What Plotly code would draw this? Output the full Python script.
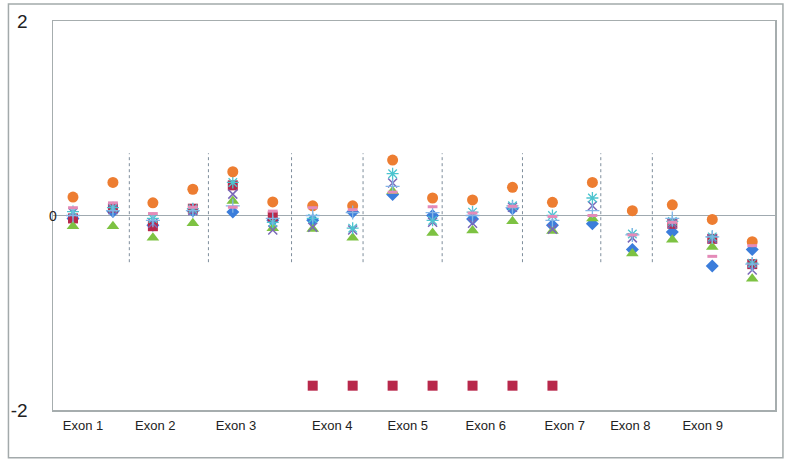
import plotly.graph_objects as go

positions = list(range(18))

blue_diamond = [-0.03, 0.04, -0.10, 0.05, 0.035, -0.05, -0.05, 0.035, 0.215, 0.0, -0.035, 0.07, -0.10, -0.085, -0.35, -0.17, -0.52, -0.35]
red_square = [-0.03, 0.08, -0.11, 0.07, 0.31, -0.01, -1.75, -1.75, -1.75, -1.75, -1.75, -1.75, -1.75, None, None, -0.085, -0.24, -0.50]
green_triangle = [-0.11, -0.11, -0.23, -0.08, 0.15, -0.13, -0.14, -0.23, 0.25, -0.18, -0.155, -0.06, -0.16, -0.03, -0.39, -0.25, -0.325, -0.65]
purple_x = [0.03, 0.06, -0.08, 0.05, 0.22, -0.15, -0.12, -0.15, 0.335, -0.07, -0.08, 0.085, -0.14, 0.10, -0.23, -0.085, -0.24, -0.56]
cyan_star = [0.04, 0.08, -0.03, 0.07, 0.34, -0.07, -0.03, -0.13, 0.43, -0.05, 0.035, 0.10, 0.0, 0.18, -0.19, -0.06, -0.22, -0.49]
orange_circle = [0.19, 0.34, 0.13, 0.27, 0.45, 0.14, 0.10, 0.10, 0.57, 0.18, 0.16, 0.29, 0.135, 0.34, 0.05, 0.11, -0.04, -0.27]
lightblue_plus = [0.0, 0.05, -0.05, 0.05, 0.10, -0.03, 0.0, 0.03, 0.30, 0.03, 0.0, 0.08, -0.05, 0.05, -0.20, -0.03, -0.22, -0.50]
pink_dash = [0.08, 0.13, 0.02, 0.085, 0.085, 0.045, 0.08, 0.06, 0.24, 0.09, 0.025, 0.095, -0.01, 0.0, -0.20, -0.07, -0.42, -0.31]

exon_labels = ["Exon 1", "Exon 2", "Exon 3", "Exon 4", "Exon 5", "Exon 6", "Exon 7", "Exon 8", "Exon 9"]
exon_label_pos = [0.25, 2.06, 4.08, 6.49, 8.38, 10.33, 12.31, 13.95, 15.76]
separator_pos = [1.41, 3.39, 5.47, 7.26, 9.24, 11.25, 13.21, 14.5]
separator_top = 0.64
separator_bottom = -0.48

series = [
    (blue_diamond, "diamond", "#3B7DDB", 10, 0),
    (red_square, "square", "#B8284B", 10, 0),
    (green_triangle, "triangle-up", "#7DC242", 11, 0),
    (purple_x, "x-thin", "#7A68B8", 9, 1.5),
    (cyan_star, "asterisk", "#4CC4CF", 10, 1.3),
    (orange_circle, "circle", "#ED7D31", 11, 0),
    (lightblue_plus, "cross-thin", "#82B4E6", 10, 1.3),
    (pink_dash, "line-ew", "#E48BB8", 7, 3),
]

fig = go.Figure()
for vals, sym, col, size, lw in series:
    marker = dict(symbol=sym, color=col, size=size)
    if lw:
        marker["line"] = dict(color=col, width=lw)
    else:
        marker["line"] = dict(width=0)
    fig.add_trace(go.Scatter(x=positions, y=vals, mode="markers", marker=marker,
                             showlegend=False, hoverinfo="skip"))

for sx in separator_pos:
    fig.add_shape(type="line", x0=sx, x1=sx, y0=separator_bottom, y1=separator_top,
                  xref="x", yref="y", line=dict(color="#7F8E9C", width=1, dash="dot"),
                  layer="below")

# outer chart border
fig.add_shape(type="rect", xref="paper", yref="paper",
              x0=-0.0617, x1=1.011, y0=-0.123, y1=1.0436,
              line=dict(color="#A3AAAB", width=1.5))

fig.add_annotation(text="0", xref="paper", yref="y", x=0, y=0, xanchor="center",
                   yanchor="middle", showarrow=False,
                   font=dict(size=14, color="#222222", family="Liberation Sans"))

fig.update_layout(
    width=788, height=461,
    margin=dict(l=48, r=11, t=20, b=51),
    paper_bgcolor="white", plot_bgcolor="white",
    font=dict(family="Liberation Sans", color="#222222"),
    xaxis=dict(range=[-0.5, 17.57], tickvals=exon_label_pos, ticktext=exon_labels,
               showgrid=False, zeroline=False, showline=True, mirror=True,
               linecolor="#A6ADAE", linewidth=1.5, ticks="", ticklabelstandoff=3,
               tickfont=dict(size=13, color="#222222")),
    yaxis=dict(range=[-2, 2], tickvals=[-2, 2], ticktext=["-2", "2"],
               showgrid=False, zeroline=True, zerolinecolor="#A0AAB0", zerolinewidth=1.5,
               showline=True, mirror=True, linecolor="#A6ADAE", linewidth=1.5,
               ticks="", ticklabelstandoff=20,
               tickfont=dict(size=19, color="#222222")),
)

fig.write_html("out.html", config={"displayModeBar": False, "staticPlot": True},
               post_script="document.body.style.margin='0px';document.body.style.overflow='hidden';")
